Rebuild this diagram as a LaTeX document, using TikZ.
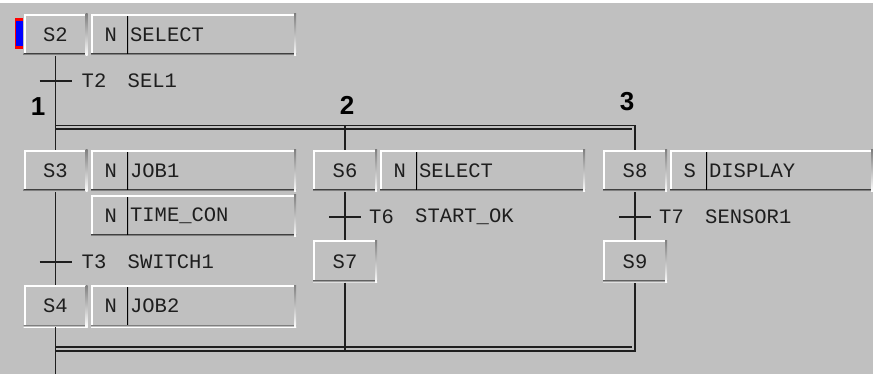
\documentclass[tikz,border=0pt]{standalone}
\usepackage{fontspec}
\setmonofont{Liberation Mono}
\setsansfont{Liberation Sans}
\usetikzlibrary{positioning}
\definecolor{panel}{RGB}{192,192,192}
\definecolor{shade}{RGB}{128,128,128}
\definecolor{wire}{RGB}{30,30,30}

\begin{document}
\begin{tikzpicture}[x=1pt,y=-1pt,
 bevel/.style={fill=panel,inner sep=0pt,text=wire,font=\ttfamily\fontsize{20.5}{20.5}\selectfont,
  path picture={
   \fill[white] (path picture bounding box.north west) rectangle ([yshift=-2pt]path picture bounding box.north east);
   \fill[white] (path picture bounding box.north west) rectangle ([xshift=2pt]path picture bounding box.south west);
   \fill[shade] (path picture bounding box.south west) rectangle ([yshift=2pt]path picture bounding box.south east);
   \fill[shade] (path picture bounding box.north east) rectangle ([xshift=-2pt]path picture bounding box.south east);}},
 stepbox/.style={bevel,minimum width=64pt,minimum height=42pt},
 actbox/.style={bevel,anchor=west,minimum width=#1,minimum height=42pt},
 actbox/.default=205pt,
 qual/.style={anchor=west,inner sep=0pt,minimum width=35pt,minimum height=38pt,text=wire,
  font=\ttfamily\fontsize{20.5}{20.5}\selectfont,
  path picture={\draw[shade,line width=2pt] (path picture bounding box.north east)--(path picture bounding box.south east);}},
 actname/.style={anchor=west,inner sep=1.5pt,text=wire,font=\ttfamily\fontsize{20.5}{20.5}\selectfont},
 lbl/.style={anchor=west,inner sep=0pt,text=wire,font=\ttfamily\fontsize{20.5}{20.5}\selectfont},
 num/.style={inner sep=0pt,font=\sffamily\bfseries\fontsize{26}{26}\selectfont},
 wire/.style={draw=wire,line width=1.7pt},
 bar/.style={draw=wire,line width=1.4pt}]
% panel
\useasboundingbox (0,0) rectangle (873,374);
\fill[panel] (0,0) rectangle (873,374);
\fill[white] (0,0) rectangle (873,3);
\fill[red] (15,18) rectangle (23,49);
\fill[blue] (16,21) rectangle (23,46);

% initial step
\node[stepbox] (s2) at (55.5,35) {S2};
\node[actbox] (a2) at (91,35) {};
\node[qual] (a2q) at ([xshift=2pt]a2.west) {N};
\node[actname] at (a2q.east) {SELECT};
\coordinate (t2) at (55.5,81);
\draw[bar] ([xshift=-16pt]t2) -- ([xshift=16pt]t2);
\node[lbl,right=26pt of t2] (t2n) {T2};
\node[lbl,right=21pt of t2n] {SEL1};

% branch numbers
\node[num] (n1) at (38,107) {1};
\node[num] (n2) at (347,105) {2};
\node[num] (n3) at (627,102) {3};

% branch 1
\node[stepbox] (s3) at (55.5,171) {S3};
\node[actbox] (a3) at (91,171) {};
\node[qual] (a3q) at ([xshift=2pt]a3.west) {N};
\node[actname] at (a3q.east) {JOB1};
\node[actbox] (a3b) at (91,216) {};
\node[qual] (a3bq) at ([xshift=2pt]a3b.west) {N};
\node[actname] at (a3bq.east) {TIME\_CON};
\coordinate (t3) at (55.5,262);
\draw[bar] ([xshift=-16pt]t3) -- ([xshift=16pt]t3);
\node[lbl,right=26pt of t3] (t3n) {T3};
\node[lbl,right=21pt of t3n] {SWITCH1};
\node[stepbox] (s4) at (55.5,306) {S4};
\node[actbox] (a4) at (91,306) {};
\node[qual] (a4q) at ([xshift=2pt]a4.west) {N};
\node[actname] at (a4q.east) {JOB2};

% branch 2
\node[stepbox] (s6) at (345,171) {S6};
\node[actbox] (a6) at (380,171) {};
\node[qual] (a6q) at ([xshift=2pt]a6.west) {N};
\node[actname] at (a6q.east) {SELECT};
\coordinate (t6) at (345,217);
\draw[bar] ([xshift=-16pt]t6) -- ([xshift=16pt]t6);
\node[lbl,right=24pt of t6] (t6n) {T6};
\node[lbl,right=21pt of t6n] {START\_OK};
\node[stepbox] (s7) at (345,261.5) {S7};

% branch 3
\node[stepbox] (s8) at (635,171) {S8};
\node[actbox=203pt] (a8) at (670,171) {};
\node[qual] (a8q) at ([xshift=2pt]a8.west) {S};
\node[actname] at (a8q.east) {DISPLAY};
\coordinate (t7) at (635,217);
\draw[bar] ([xshift=-16pt]t7) -- ([xshift=16pt]t7);
\node[lbl,right=24pt of t7] (t7n) {T7};
\node[lbl,right=21pt of t7n] {SENSOR1};
\node[stepbox] (s9) at (635,261.5) {S9};

% divergence and convergence
\coordinate (d1) at (55.5,125.5);
\coordinate (d2) at (345,125.5);
\coordinate (d3) at (635,125.5);
\coordinate (b2) at (345,351);
\coordinate (b3) at (635,351);
\coordinate (e1) at (55.5,374);
\draw[wire] (d1) -- (d3) -- (s8.north);
\draw[wire] (55.5,129) -- (632,129);
\draw[wire] (55.5,347) -- (632,347);
\draw[wire] (55.5,351) -- (b3) -- (s9.south);

% links
\draw[wire] (s2.south) -- (s3.north);
\draw[wire] (s3.south) -- (s4.north);
\draw[wire] (s4.south) -- (e1);
\draw[wire] (d2) -- (s6.north);
\draw[wire] (s6.south) -- (s7.north);
\draw[wire] (s7.south) -- (b2);
\draw[wire] (s8.south) -- (s9.north);
\end{tikzpicture}
\end{document}
